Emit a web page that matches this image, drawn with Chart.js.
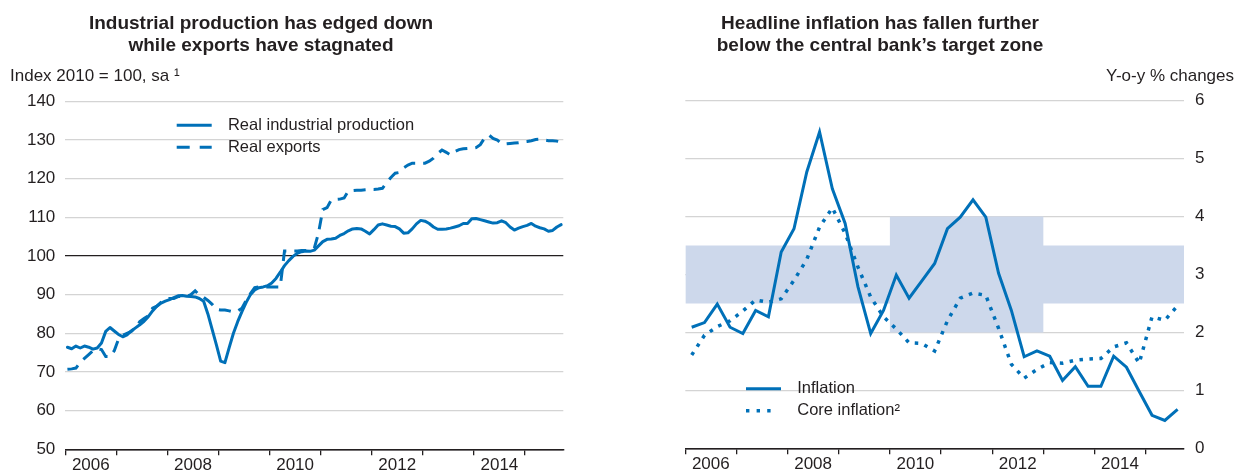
<!DOCTYPE html>
<html>
<head>
<meta charset="utf-8">
<script src="https://cdn.jsdelivr.net/npm/chart.js@4.4.1/dist/chart.umd.min.js"></script>
<style>
  body { margin: 0; background: #fff; }
  #wrap { position: relative; width: 1242px; height: 470px; overflow: hidden; font-family: "Liberation Sans", Arial, sans-serif; color: #231f20; }
  canvas { position: absolute; top: 0; }
  .title { position: absolute; top: 12px; transform: translateX(-50%); text-align: center; font-weight: bold; font-size: 19px; line-height: 22px; white-space: nowrap; }
  .unit { position: absolute; top: 66px; font-size: 17px; line-height: 20px; white-space: nowrap; }
</style>
</head>
<body>
<div id="wrap">
  <canvas id="left" width="620" height="470" style="left:0"></canvas>
  <canvas id="right" width="622" height="470" style="left:620px"></canvas>
  <div class="title" style="left:261px">Industrial production has edged down<br>while exports have stagnated</div>
  <div class="title" style="left:880px">Headline inflation has fallen further<br>below the central bank’s target zone</div>
  <div class="unit" style="left:10px">Index 2010 = 100, sa ¹</div>
  <div class="unit" style="right:8px">Y-o-y % changes</div>
</div>
<script>
// monthly, Jan 2006 - Sep 2015
const industrialProduction = [
  76.4, 76.0, 76.7, 76.2, 76.7, 76.4, 75.9, 76.2, 77.5, 80.5, 81.5, 80.6,
  79.7, 79.1, 79.6, 80.6, 81.4, 82.2, 83.1, 84.3, 85.8, 87.0, 87.8, 88.3,
  88.7, 89.2, 89.7, 89.8, 89.6, 89.5, 89.4, 89.0, 88.3, 85.0, 81.0, 77.0,
  72.8, 72.4, 76.3, 80.0, 83.0, 85.6, 88.0, 90.0, 91.2, 91.8, 92.0, 92.3,
  93.0, 94.2, 95.8, 97.5, 98.8, 99.9, 100.7, 101.1, 101.3, 101.2, 101.5, 102.6,
  103.7, 104.3, 104.4, 104.6, 105.3, 105.8, 106.5, 107.0, 107.1, 107.0, 106.4, 105.7,
  106.8, 108.0, 108.3, 108.0, 107.7, 107.6, 107.0, 105.9, 106.0, 107.0, 108.3, 109.2,
  109.0, 108.4, 107.5, 106.9, 106.9, 107.0, 107.2, 107.5, 107.8, 108.4, 108.4, 109.6,
  109.7, 109.4, 109.1, 108.8, 108.5, 108.6, 109.1, 108.6, 107.5, 106.7, 107.2, 107.6,
  107.9, 108.4, 107.7, 107.3, 107.0, 106.4, 106.6, 107.5, 108.1
];
const realExports = [
  70.7, 70.8, 71.0, 72.5, 73.5, 74.5, 75.5, 76.0, 75.8, 74.0, 74.0, 75.5,
  78.5, 79.5, 80.0, 80.5, 81.5, 83.0, 83.8, 84.5, 86.5, 87.0, 88.0, 88.5,
  89.0, 89.0, 89.5, 89.5, 89.5, 90.0, 91.0, 89.8, 89.3, 88.5, 87.5, 86.2,
  86.0, 86.0, 85.8, 85.5, 85.8, 86.5, 88.5, 90.3, 91.8, 92.0, 92.0, 92.0,
  92.0, 92.0, 92.0, 101.3, 101.3, 101.3, 101.3, 101.4, 101.4, 101.5, 102.0, 106.0,
  112.0, 112.5, 114.5, 114.6, 114.7, 115.0, 116.8, 116.9, 117.0, 117.0, 117.1, 117.2,
  117.2, 117.3, 117.5, 119.0, 120.3, 121.4, 121.6, 122.8, 123.5, 124.0, 124.0, 124.0,
  124.0, 124.5, 125.3, 126.5, 127.4, 126.8, 126.1, 127.0, 127.5, 127.7, 127.8, 127.8,
  128.0, 128.8, 130.5, 131.3, 130.4, 130.0, 129.0, 129.0, 129.1, 129.2, 129.3, 129.5,
  129.6, 129.8, 130.1, 130.2, 130.0, 129.8, 129.8, 129.7, 129.3
];
// quarterly, 2006Q1 - 2015Q3
const inflation = [
  2.09, 2.17, 2.49, 2.09,
  1.98, 2.38, 2.27, 3.39,
  3.79, 4.77, 5.46, 4.48,
  3.88, 2.79, 1.98, 2.38,
  2.99, 2.59, 2.89, 3.19,
  3.79, 3.99, 4.29, 3.99,
  3.02, 2.38, 1.58, 1.68,
  1.59, 1.17, 1.41, 1.07,
  1.07, 1.59, 1.40, 0.98,
  0.57, 0.48, 0.67
];
const coreInflation = [
  1.61, 1.95, 2.10, 2.20,
  2.37, 2.56, 2.52, 2.58,
  2.90, 3.26, 3.82, 4.15,
  3.71, 3.13, 2.61, 2.27,
  2.06, 1.82, 1.81, 1.68,
  2.20, 2.59, 2.68, 2.64,
  2.07, 1.45, 1.21, 1.36,
  1.48, 1.47, 1.52, 1.54,
  1.55, 1.75, 1.82, 1.47,
  2.27, 2.21, 2.46
];
// central bank target zone
const bandStart = [2006, 2010, 2013];
const bandEnd = [2010, 2013, 2015.75];
const bandLow = [2.5, 2, 2.5];
const bandHigh = [3.5, 4, 3.5];

const years = [2006, 2007, 2008, 2009, 2010, 2011, 2012, 2013, 2014, 2015];
const firstYear = 2006;
const lastX = 2015.75;

const blue = '#0070b8';
const ink = '#231f20';
const gridGrey = '#d4d4d4';
const font = 'Liberation Sans, Arial, sans-serif';

const monthly = (arr) => arr.map((v, i) => ({ x: firstYear + (i + 0.5) / 12, y: v }));
const quarterly = (arr) => arr.map((v, i) => ({ x: firstYear + (i + 0.5) / 4, y: v }));
const bandEdge = (vals) => {
  const pts = [];
  bandStart.forEach((s, i) => { pts.push({ x: s, y: vals[i] }); pts.push({ x: bandEnd[i], y: vals[i] }); });
  return pts;
};

// place the legend at a fixed spot inside the plot
const legendSpot = {
  id: 'legendSpot',
  afterLayout(chart, args, opts) {
    const lg = chart.legend;
    if (!lg) return;
    lg.left = opts.x; lg.top = opts.y;
    lg.right = opts.x + lg.width; lg.bottom = opts.y + lg.height;
  }
};

function xScale(pos) {
  return {
    type: 'linear', min: firstYear, max: lastX,
    afterBuildTicks: (s) => { s.ticks = years.map(v => ({ value: v })); },
    afterFit: (s) => { s.height = pos.xh; },
    grid: { drawOnChartArea: false, drawTicks: true, tickLength: 6, color: ink, lineWidth: 1.3 },
    border: { display: true, color: ink, width: 1.5 },
    ticks: {
      autoSkip: false, maxRotation: 0, padding: 0, labelOffset: 25.5,
      color: ink, font: { family: font, size: 17 },
      callback: (v) => (v % 2 === 0 ? String(v) : '')
    }
  };
}

function legendOpts() {
  return {
    display: true, position: 'chartArea', align: 'start',
    labels: {
      usePointStyle: true, pointStyle: 'line', pointStyleWidth: 43, boxWidth: 43,
      padding: 5.5, color: ink, font: { family: font, size: 16.5 },
      filter: (item) => !!item.text,
      generateLabels: (chart) => Chart.defaults.plugins.legend.labels.generateLabels(chart).map((item) => {
        const ds = chart.data.datasets[item.datasetIndex];
        item.lineDash = ds.legendDash || [];
        item.lineWidth = ds.borderWidth;
        item.strokeStyle = ds.borderColor;
        item.lineCap = 'butt';
        return item;
      })
    }
  };
}

new Chart(document.getElementById('left'), {
  type: 'line',
  data: {
    datasets: [
      { label: 'Real industrial production', data: monthly(industrialProduction),
        borderColor: blue, borderWidth: 3, pointRadius: 0, borderJoinStyle: 'round', borderCapStyle: 'round',
        legendDash: [35, 30] },
      { label: 'Real exports', data: monthly(realExports),
        borderColor: blue, borderWidth: 3, pointRadius: 0, borderDash: [12, 8], borderCapStyle: 'butt',
        legendDash: [13, 10, 12, 30] }
    ]
  },
  options: {
    responsive: false, animation: false,
    layout: { padding: { top: 101.3, right: 56.7, left: 0, bottom: 0 } },
    scales: {
      x: xScale({ xh: 20.7 }),
      y: {
        position: 'left', min: 50, max: 140,
        afterFit: (s) => { s.width = 65.3; },
        border: { display: false },
        grid: { drawTicks: false, lineWidth: 1.3,
          color: (c) => (c.tick && (c.tick.value === 100 || c.tick.value === 50) ? ink : gridGrey) },
        ticks: { stepSize: 10, padding: 10, color: ink, font: { family: font, size: 17 } }
      }
    },
    plugins: {
      legend: legendOpts(),
      legendSpot: { x: 171.2, y: 111.5 },
      tooltip: { enabled: false }
    }
  },
  plugins: [legendSpot]
});

new Chart(document.getElementById('right'), {
  type: 'line',
  data: {
    datasets: [
      { label: 'Inflation', data: quarterly(inflation),
        borderColor: blue, borderWidth: 3, pointRadius: 0, borderJoinStyle: 'miter', borderCapStyle: 'butt',
        legendDash: [35, 30] },
      { label: 'Core inflation²', data: quarterly(coreInflation),
        borderColor: blue, borderWidth: 3.5, pointRadius: 0, borderDash: [3.5, 6.5], borderCapStyle: 'butt',
        legendDash: [3.4, 7.2, 3.4, 7.2, 3.4, 30] },
      { data: bandEdge(bandLow), borderWidth: 0, pointRadius: 0, fill: false },
      { data: bandEdge(bandHigh), borderWidth: 0, pointRadius: 0, fill: '-1', backgroundColor: '#cdd8eb' }
    ]
  },
  options: {
    responsive: false, animation: false,
    layout: { padding: { top: 100.7, right: 0, left: 65.3, bottom: 0 } },
    scales: {
      x: xScale({ xh: 21.7 }),
      y: {
        position: 'right', min: 0, max: 6,
        afterFit: (s) => { s.width = 58; },
        border: { display: false },
        grid: { drawTicks: false, lineWidth: 1.3,
          color: (c) => (c.tick && c.tick.value === 0 ? ink : gridGrey) },
        ticks: { stepSize: 1, padding: 11, color: ink, font: { family: font, size: 17 } }
      }
    },
    plugins: {
      legend: legendOpts(),
      legendSpot: { x: 120.5, y: 375 },
      tooltip: { enabled: false }
    }
  },
  plugins: [legendSpot]
});
</script>
</body>
</html>
